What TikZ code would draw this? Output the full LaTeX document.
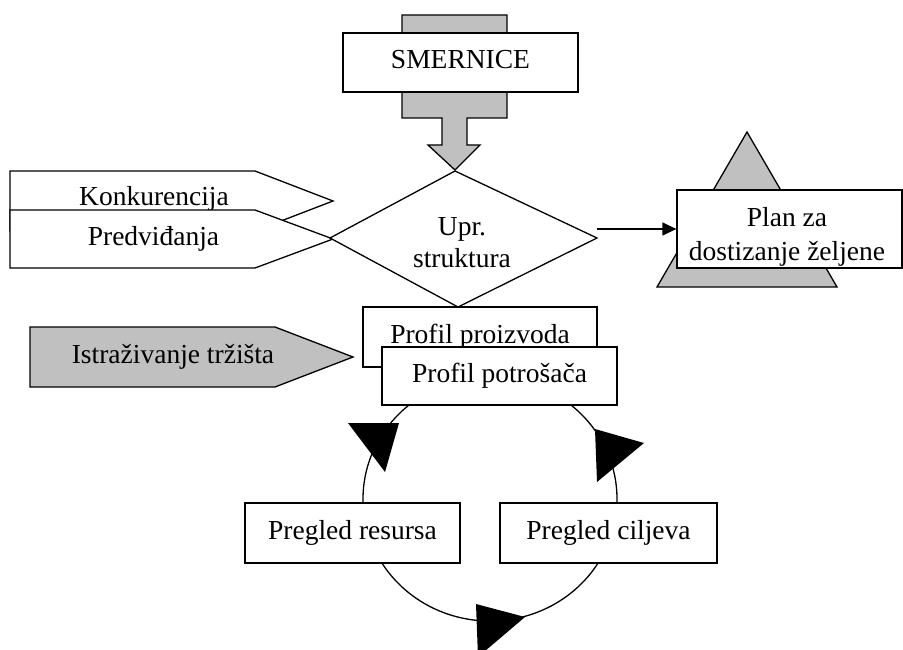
\documentclass[tikz,border=0pt]{standalone}
\usepackage{fontspec}
\setmainfont{Liberation Serif}
\usetikzlibrary{arrows.meta}
\definecolor{shade}{RGB}{192,192,192}
\begin{document}
\begin{tikzpicture}[x=1pt,y=-1pt,line width=1.3pt,line join=miter,
  font=\fontsize{27.5}{32}\selectfont,
  box/.style={draw,fill=white,inner sep=0pt,text height=18pt,text depth=6pt},
  lbl/.style={inner sep=0pt,text height=18pt,text depth=6pt},
  multi/.style={inner sep=0pt,align=center},
  headtri/.style={fill=black,draw=none}]
\useasboundingbox (0,0) rectangle (903,650);
% top block arrow
\filldraw[fill=shade] (402,15)--(507,15)--(507,118)--(467,118)--(467,145)--(480,145)
  --(455,170)--(428,145)--(442,145)--(442,118)--(402,118)--cycle;
\node[box,minimum width=235,minimum height=59] (smer) at (460.5,62.5) {SMERNICE};
% triangle and plan
\filldraw[fill=shade] (747,132)--(837,287)--(657,287)--cycle;
\node[box,minimum width=225,minimum height=78] (plan) at (789.5,229) {};
\node[multi,font=\fontsize{27.5}{34}\selectfont] (plantxt) at (787,236.5) {Plan za\\dostizanje željene};
% left pentagons
\filldraw[fill=white] (10,171)--(255,171)--(333,201)--(255,231)--(10,231)--cycle;
\node[lbl,anchor=base] (konk) at (154,205) {Konkurencija};
\filldraw[fill=white] (10,210)--(255,210)--(333,239)--(255,268)--(10,268)--cycle;
\node[lbl,anchor=base] (pred) at (153.5,245) {Predviđanja};
% diamond
\coordinate (dT) at (455,171);
\coordinate (dR) at (597,238);
\coordinate (dB) at (458,307);
\coordinate (dL) at (330,238);
\filldraw[fill=white] (dT)--(dR)--(dB)--(dL)--cycle;
\node[multi] (upr) at (462,243) {Upr.\\struktura};
\coordinate (aS) at (597,229);
\draw[-{Triangle[length=14pt,width=13pt]}] (aS) -- (plan.west);
% cycle
\draw (490,499) ellipse [x radius=127, y radius=122];
% market research
\filldraw[fill=shade] (30,327)--(275,327)--(353,357)--(275,387)--(30,387)--cycle;
\node[lbl] (istr) at (173,357) {Istraživanje tržišta};
\node[box,minimum width=234,minimum height=60] (proiz) at (480,337) {Profil proizvoda};
\node[box,minimum width=235,minimum height=58] (potr) at (499.5,376) {Profil potrošača};
\node[box,minimum width=215,minimum height=60] (res) at (352.5,533) {Pregled resursa};
\node[box,minimum width=217,minimum height=60] (cilj) at (608.5,533) {Pregled ciljeva};
% arrowheads
\fill[headtri] (348,423)--(399,423)--(385,472)--cycle;
\fill[headtri] (595,429)--(644,443)--(597,482)--cycle;
\fill[headtri] (476,604)--(525,617)--(478,657)--cycle;
\end{tikzpicture}
\end{document}
